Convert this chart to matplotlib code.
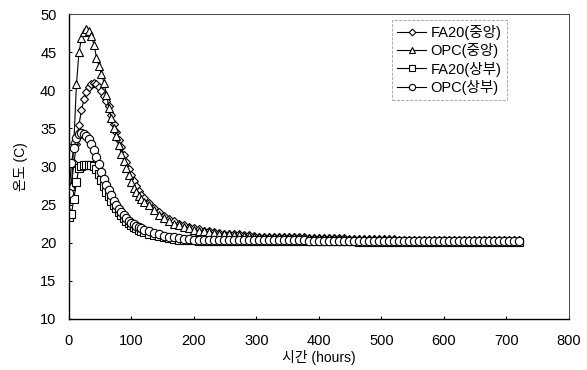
import matplotlib
matplotlib.use("Agg")
import matplotlib.pyplot as plt

plt.rcParams['font.family'] = ['Liberation Sans', 'Noto Sans CJK KR', 'DejaVu Sans']

# sampling times (hours)
hours = [0, 4, 8, 12, 16, 20, 24, 28, 32, 36,
         40, 44, 48, 52, 56, 60, 64, 68, 72, 76,
         80, 84, 88, 92, 96, 100, 104, 108, 112, 116, 120,
         128, 136, 144, 152, 160, 168, 176, 184, 192, 200, 208,
         216, 224, 232, 240, 248, 256, 264, 272, 280, 288, 296,
         304, 312, 320, 328, 336, 344, 352, 360, 368, 376,
         384, 392, 400, 408, 416, 424, 432, 440, 448, 456,
         464, 472, 480, 488, 496, 504, 512, 520, 528, 536,
         544, 552, 560, 568, 576, 584, 592, 600, 608, 616,
         624, 632, 640, 648, 656, 664, 672, 680, 688, 696,
         704, 712, 720]

fa20_center = [24.0, 27.5, 30.5, 33.0, 35.5, 37.4, 38.8, 39.8, 40.4, 40.8,
               40.9, 40.8, 40.4, 39.9, 39.3, 38.6, 37.9, 36.7, 35.6, 34.5,
               33.5, 32.5, 31.5, 30.6, 29.7, 28.9, 28.1, 27.4, 26.8, 26.3, 25.9,
               25.2, 24.6, 24.0, 23.5, 23.1, 22.8, 22.5, 22.3, 22.1, 21.9, 21.8,
               21.6, 21.5, 21.4, 21.3, 21.2, 21.2, 21.1, 21.1, 21.0, 21.0, 20.9,
               20.8, 20.8, 20.8, 20.8, 20.7, 20.7, 20.7, 20.7, 20.7, 20.7,
               20.6, 20.6, 20.6, 20.6, 20.6, 20.6, 20.6, 20.6, 20.5, 20.5,
               20.5, 20.5, 20.5, 20.5, 20.5, 20.5, 20.5, 20.5, 20.4, 20.4,
               20.4, 20.4, 20.4, 20.4, 20.4, 20.4, 20.4, 20.4, 20.3, 20.3,
               20.3, 20.3, 20.3, 20.3, 20.3, 20.3, 20.3, 20.3, 20.3, 20.3,
               20.3, 20.3, 20.3]

opc_center = [24.0, 27.5, 33.5, 40.8, 45.0, 46.8, 47.6, 48.1, 47.8, 47.1,
              46.0, 44.3, 43.2, 42.2, 41.0, 39.4, 37.7, 36.3, 35.0, 34.0,
              32.8, 31.7, 30.7, 29.8, 28.9, 28.0, 27.2, 26.6, 26.1, 25.7, 25.4,
              24.9, 24.3, 23.7, 23.2, 22.8, 22.5, 22.3, 22.1, 21.9, 21.7, 21.6,
              21.5, 21.4, 21.3, 21.2, 21.1, 21.1, 21.0, 21.0, 20.9, 20.9, 20.8,
              20.8, 20.8, 20.7, 20.7, 20.7, 20.7, 20.7, 20.7, 20.6, 20.6,
              20.6, 20.6, 20.6, 20.6, 20.6, 20.6, 20.5, 20.5, 20.5, 20.5,
              20.5, 20.5, 20.5, 20.5, 20.5, 20.5, 20.4, 20.4, 20.4, 20.4,
              20.4, 20.4, 20.4, 20.4, 20.4, 20.4, 20.4, 20.4, 20.3, 20.3,
              20.3, 20.3, 20.3, 20.3, 20.3, 20.3, 20.3, 20.3, 20.3, 20.3,
              20.3, 20.3, 20.3]

fa20_top = [23.4, 23.8, 25.8, 28.0, 29.8, 30.1, 30.2, 30.2, 30.2, 30.2,
            30.1, 29.7, 29.0, 28.2, 27.4, 26.7, 26.1, 25.5, 25.0, 24.5,
            24.0, 23.6, 23.2, 22.9, 22.6, 22.3, 22.1, 21.9, 21.7, 21.6, 21.4,
            21.2, 21.0, 20.9, 20.7, 20.6, 20.5, 20.4, 20.4, 20.3, 20.3, 20.2,
            20.2, 20.2, 20.2, 20.2, 20.2, 20.2, 20.2, 20.2, 20.2, 20.2, 20.2,
            20.2, 20.2, 20.2, 20.2, 20.2, 20.2, 20.2, 20.2, 20.2, 20.2,
            20.2, 20.2, 20.2, 20.2, 20.2, 20.2, 20.2, 20.2, 20.2, 20.2,
            20.1, 20.1, 20.1, 20.1, 20.1, 20.1, 20.1, 20.1, 20.1, 20.1,
            20.1, 20.1, 20.1, 20.1, 20.1, 20.1, 20.1, 20.1, 20.1, 20.1,
            20.1, 20.1, 20.1, 20.1, 20.1, 20.1, 20.1, 20.1, 20.1, 20.1,
            20.1, 20.1, 20.1]

opc_top = [26.5, 30.5, 32.4, 33.7, 34.3, 34.4, 34.2, 34.0, 33.6, 32.9,
           32.1, 31.3, 30.3, 29.3, 28.4, 27.6, 26.9, 26.2, 25.5, 24.9,
           24.4, 24.0, 23.6, 23.2, 22.9, 22.6, 22.4, 22.2, 22.0, 21.9, 21.7,
           21.5, 21.3, 21.1, 20.9, 20.8, 20.7, 20.6, 20.5, 20.5, 20.4, 20.3,
           20.3, 20.3, 20.3, 20.3, 20.3, 20.3, 20.3, 20.3, 20.3, 20.3, 20.3,
           20.3, 20.3, 20.3, 20.3, 20.3, 20.3, 20.3, 20.3, 20.3, 20.3,
           20.2, 20.2, 20.2, 20.2, 20.2, 20.2, 20.2, 20.2, 20.2, 20.2,
           20.2, 20.2, 20.2, 20.2, 20.2, 20.2, 20.2, 20.2, 20.2, 20.2,
           20.2, 20.2, 20.2, 20.2, 20.2, 20.2, 20.2, 20.2, 20.2, 20.2,
           20.2, 20.2, 20.2, 20.2, 20.2, 20.2, 20.2, 20.2, 20.2, 20.2,
           20.2, 20.2, 20.2]

labels = ['FA20(중앙)', 'OPC(중앙)', 'FA20(상부)', 'OPC(상부)']
markers = ['D', '^', 's', 'o']
sizes = [4.5, 6, 5.5, 6]

fig = plt.figure(figsize=(5.87, 3.70), dpi=100)
ax = fig.add_axes([0.1175, 0.138, 0.8515, 0.824])

series = [fa20_center, opc_center, fa20_top, opc_top]
handles = []
for vals, lab, mk, ms in zip(series, labels, markers, sizes):
    h, = ax.plot(hours, vals, color='black', lw=0.8, marker=mk, ms=ms,
                 mfc='white', mec='black', mew=0.8, label=lab)
    handles.append(h)

ax.set_xlim(0, 800)
ax.set_ylim(10, 50)
ax.set_xticks(range(0, 801, 100))
ax.set_yticks(range(10, 51, 5))
ax.tick_params(direction='in', length=2, labelsize=10.5)
ax.tick_params(axis='x', pad=11)
ax.tick_params(axis='y', pad=9)
for side in ['left', 'bottom']:
    ax.spines[side].set_linewidth(1.0)
# top/right frame is fainter in the scan
for side in ['top', 'right']:
    ax.spines[side].set_linewidth(0.7)
    ax.spines[side].set_color('#444444')

ax.set_xlabel('시간 (hours)', fontsize=10, labelpad=1)
ax.set_ylabel('온도 (C)', fontsize=10, labelpad=9)

leg = ax.legend(handles=handles, loc='upper left',
                bbox_to_anchor=(392 / 587, 1 - 20 / 370),
                bbox_transform=fig.transFigure, fontsize=10.5,
                handlelength=2.0, handletextpad=0.3, labelspacing=0.22,
                markerscale=0.75, borderpad=0.35, borderaxespad=0,
                fancybox=False)
leg.get_frame().set_edgecolor('#888888')
leg.get_frame().set_linestyle('--')
leg.get_frame().set_linewidth(0.6)

fig.savefig('out.png', dpi=100)
